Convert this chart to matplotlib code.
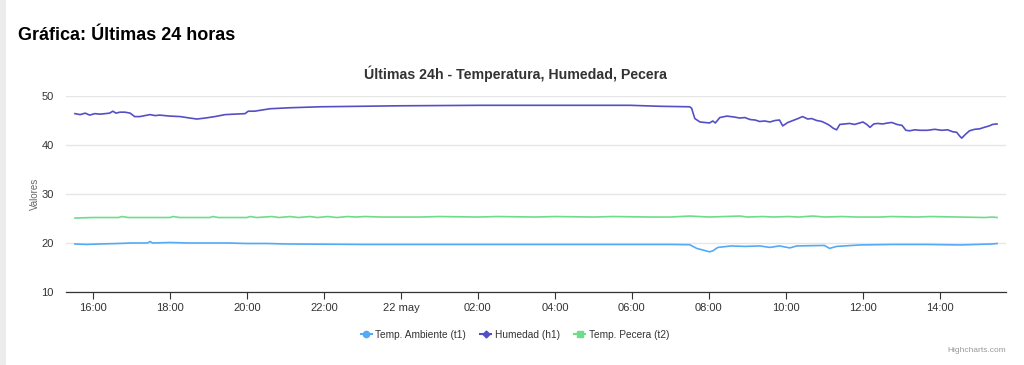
import pandas as pd
import matplotlib
matplotlib.use("Agg")
import matplotlib.pyplot as plt
import matplotlib.dates as mdates
from matplotlib.lines import Line2D
from matplotlib.patches import Rectangle

plt.rcParams['font.family'] = ['Liberation Sans', 'DejaVu Sans']

# Datos (día hora, valor)
h1_times = ["21 15:32", "21 15:40", "21 15:48", "21 15:55", "21 16:03", "21 16:11", "21 16:19",
            "21 16:26", "21 16:31", "21 16:36", "21 16:42", "21 16:50", "21 16:58", "21 17:05",
            "21 17:13", "21 17:21", "21 17:29", "21 17:37", "21 17:44", "21 18:00", "21 18:16",
            "21 18:31", "21 18:42", "21 18:55", "21 19:10", "21 19:26", "21 19:41", "21 19:57",
            "21 20:02", "21 20:12", "21 20:36", "21 21:07", "21 21:54", "21 22:56", "21 23:58",
            "22 02:03", "22 04:08", "22 05:57", "22 06:44", "22 07:30", "22 07:33", "22 07:38",
            "22 07:46", "22 07:53", "22 08:01", "22 08:06", "22 08:10", "22 08:17", "22 08:28",
            "22 08:40", "22 08:48", "22 08:56", "22 09:04", "22 09:12", "22 09:19", "22 09:27",
            "22 09:35", "22 09:43", "22 09:50", "22 09:55", "22 10:03", "22 10:09", "22 10:17",
            "22 10:26", "22 10:34", "22 10:40", "22 10:48", "22 10:56", "22 11:04", "22 11:08",
            "22 11:14", "22 11:19", "22 11:24", "22 11:32", "22 11:39", "22 11:47", "22 11:55",
            "22 12:00", "22 12:06", "22 12:11", "22 12:17", "22 12:23", "22 12:31", "22 12:39",
            "22 12:45", "22 12:53", "22 13:01", "22 13:07", "22 13:13", "22 13:21", "22 13:29",
            "22 13:40", "22 13:52", "22 14:03", "22 14:12", "22 14:20", "22 14:26", "22 14:31",
            "22 14:34", "22 14:40", "22 14:46", "22 14:54", "22 15:02", "22 15:09", "22 15:17",
            "22 15:22", "22 15:29"]
h1_vals = [46.4, 46.2, 46.5, 46.1, 46.4, 46.3, 46.4,
           46.5, 46.9, 46.5, 46.7, 46.7, 46.5, 45.8,
           45.8, 46.0, 46.2, 46.0, 46.1, 45.9, 45.8,
           45.5, 45.3, 45.5, 45.8, 46.2, 46.3, 46.4,
           46.9, 46.9, 47.4, 47.6, 47.8, 47.9, 48.0,
           48.1, 48.1, 48.1, 47.9, 47.8, 47.5, 45.4,
           44.7, 44.6, 44.5, 44.9, 44.5, 45.6, 45.9,
           45.7, 45.5, 45.6, 45.2, 45.1, 44.8, 44.9,
           44.7, 45.0, 45.1, 43.9, 44.6, 44.9, 45.3,
           45.8, 45.3, 45.4, 45.0, 44.8, 44.3, 44.0,
           43.4, 43.1, 44.2, 44.3, 44.4, 44.2, 44.5,
           44.7, 44.2, 43.6, 44.3, 44.4, 44.3, 44.5,
           44.6, 44.2, 44.0, 43.0, 42.9, 43.1, 43.0,
           43.0, 43.2, 43.0, 43.1, 42.7, 42.6, 41.8,
           41.4, 42.2, 42.9, 43.2, 43.3, 43.6, 43.9,
           44.2, 44.3]

t1_times = ["21 15:32", "21 15:50", "21 16:10", "21 16:40", "21 17:00", "21 17:25", "21 17:29",
            "21 17:33", "21 18:00", "21 18:30", "21 19:00", "21 19:30", "21 20:00", "21 20:30",
            "21 21:00", "21 22:00", "21 23:00", "22 00:00", "22 02:00", "22 04:00", "22 06:00",
            "22 07:00", "22 07:30", "22 07:41", "22 08:01", "22 08:06", "22 08:14", "22 08:35",
            "22 08:56", "22 09:19", "22 09:35", "22 09:50", "22 10:06", "22 10:17", "22 11:00",
            "22 11:08", "22 11:19", "22 11:55", "22 12:45", "22 13:40", "22 14:31", "22 15:22",
            "22 15:29"]
t1_vals = [19.8, 19.7, 19.8, 19.9, 20.0, 20.0, 20.3,
           20.0, 20.1, 20.0, 20.0, 20.0, 19.9, 19.9,
           19.8, 19.75, 19.7, 19.7, 19.7, 19.7, 19.7,
           19.7, 19.65, 18.9, 18.2, 18.4, 19.1, 19.4,
           19.3, 19.4, 19.1, 19.4, 19.0, 19.4, 19.5,
           18.9, 19.3, 19.6, 19.7, 19.7, 19.6, 19.8,
           19.9]

t2_times = ["21 15:32", "21 16:00", "21 16:40", "21 16:45", "21 16:55", "21 18:00", "21 18:05",
            "21 18:15", "21 19:02", "21 19:07", "21 19:15", "21 20:00", "21 20:05", "21 20:15",
            "21 20:39", "21 20:50", "21 21:07", "21 21:20", "21 21:38", "21 21:50", "21 22:06",
            "21 22:20", "21 22:37", "21 22:50", "21 23:04", "21 23:30", "22 00:30", "22 01:00",
            "22 02:00", "22 02:30", "22 03:30", "22 04:00", "22 05:00", "22 05:30", "22 06:30",
            "22 07:00", "22 07:30", "22 08:00", "22 08:48", "22 09:00", "22 09:24", "22 09:40",
            "22 10:03", "22 10:20", "22 10:42", "22 11:00", "22 11:27", "22 11:50", "22 12:26",
            "22 12:45", "22 13:24", "22 13:45", "22 14:30", "22 15:10", "22 15:22", "22 15:29"]
t2_vals = [25.1, 25.2, 25.2, 25.4, 25.2, 25.2, 25.4,
           25.2, 25.2, 25.4, 25.2, 25.2, 25.4, 25.2,
           25.4, 25.2, 25.4, 25.2, 25.4, 25.2, 25.4,
           25.2, 25.4, 25.3, 25.4, 25.3, 25.3, 25.4,
           25.3, 25.4, 25.3, 25.4, 25.3, 25.4, 25.3,
           25.3, 25.5, 25.3, 25.5, 25.3, 25.4, 25.3,
           25.4, 25.3, 25.5, 25.3, 25.4, 25.3, 25.3,
           25.4, 25.3, 25.4, 25.3, 25.2, 25.3, 25.2]


def parse(lst):
    return pd.to_datetime(["2024-05-" + s for s in lst], format="%Y-%m-%d %H:%M")


c_t1 = "#55aaf6"
c_h1 = "#544fc5"
c_t2 = "#6edd8a"

fig = plt.figure(figsize=(10.24, 3.65), dpi=100)
fig.patches.append(Rectangle((0, 0), 6 / 1024, 1, transform=fig.transFigure,
                             facecolor="#ececec", edgecolor="none"))

ax = fig.add_axes([66 / 1024, 1 - 292 / 365, 940 / 1024, 196 / 365])
ax.plot(parse(t1_times), t1_vals, color=c_t1, lw=1.2)
ax.plot(parse(h1_times), h1_vals, color=c_h1, lw=1.2)
ax.plot(parse(t2_times), t2_vals, color=c_t2, lw=1.2)

ax.set_ylim(10, 50)
ax.set_yticks([10, 20, 30, 40, 50])
ax.set_xlim(pd.Timestamp("2024-05-21 15:18"), pd.Timestamp("2024-05-22 15:43"))
ax.xaxis.set_major_locator(mdates.HourLocator(byhour=range(0, 24, 2)))


def fmt(x, pos):
    d = mdates.num2date(x)
    if d.hour == 0 and d.minute == 0:
        return "%d may" % d.day
    return d.strftime("%H:%M")


ax.xaxis.set_major_formatter(plt.FuncFormatter(fmt))

ax.grid(axis="y", color="#e6e6e6", lw=1)
ax.set_axisbelow(True)
for s in ["top", "right", "left"]:
    ax.spines[s].set_visible(False)
ax.spines["bottom"].set_color("#333333")
ax.spines["bottom"].set_linewidth(0.9)
ax.tick_params(axis="x", colors="#333333", labelsize=8, length=5, width=0.8, pad=3)
ax.tick_params(axis="y", colors="#333333", labelsize=8, length=0, pad=9)
ax.set_ylabel("Valores", color="#666666", fontsize=7)
ax.yaxis.set_label_coords(-26 / 940, 0.5)

fig.text(18 / 1024, 1 - 35 / 365, "Gráfica: Últimas 24 horas", fontsize=13,
         fontweight="bold", color="black", va="center")
fig.text(516 / 1024, 1 - 74 / 365, "Últimas 24h - Temperatura, Humedad, Pecera",
         fontsize=10.2, fontweight="bold", color="#333333", ha="center", va="center")

handles = [Line2D([], [], color=c_t1, lw=1.5, marker="o", markersize=4.5),
           Line2D([], [], color=c_h1, lw=1.5, marker="D", markersize=3.5),
           Line2D([], [], color=c_t2, lw=1.5, marker="s", markersize=4)]
labels = ["Temp. Ambiente (t1)", "Humedad (h1)", "Temp. Pecera (t2)"]
leg = fig.legend(handles, labels, loc="center", bbox_to_anchor=(515 / 1024, 1 - 335 / 365),
                 ncol=3, frameon=False, fontsize=7.3, handlelength=1.1, handletextpad=0.35,
                 columnspacing=1.4)
for t in leg.get_texts():
    t.set_color("#333333")

fig.text(1006 / 1024, 1 - 350 / 365, "Highcharts.com", fontsize=6, color="#999999",
         ha="right", va="center")

fig.savefig("out.png", dpi=100)
